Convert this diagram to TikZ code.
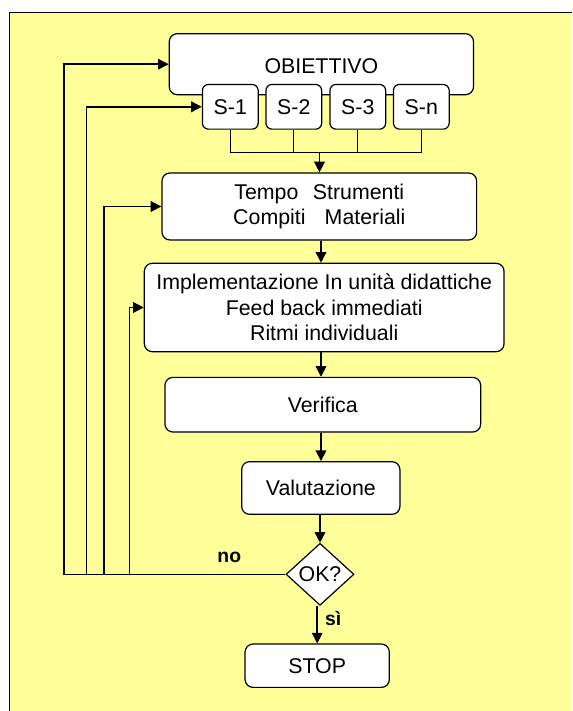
\documentclass[tikz,border=0pt]{standalone}
\usepackage{fontspec}
\setmainfont{Liberation Sans}
\usetikzlibrary{shapes.geometric,arrows.meta,calc}
\definecolor{bgyellow}{HTML}{FFFF99}

\begin{document}
\begin{tikzpicture}[x=0.75pt,y=-0.75pt,
  box/.style={draw,fill=white,rounded corners=6pt,line width=0.9pt,inner sep=0pt,
    align=center,font=\fontsize{16}{19}\selectfont},
  sbox/.style={box,rounded corners=4.5pt,minimum width=41.8pt,minimum height=33.5pt},
  decision/.style={draw,fill=white,diamond,line width=0.9pt,inner sep=0pt,
    minimum width=51pt,minimum height=46.5pt,font=\fontsize{16}{19}\selectfont},
  link/.style={line width=1.1pt},
  thinlink/.style={line width=0.8pt},
  flow/.style={link,-{Triangle[length=8pt,width=8pt]}},
  lbl/.style={font=\fontsize{14.5}{17}\selectfont\bfseries,inner sep=0pt,anchor=base}]

% page and yellow panel
\useasboundingbox (0,0) rectangle (572,711);
\fill[white] (0,0) rectangle (572,711);
\fill[bgyellow] (9.3,12.7) rectangle (572,711);
\draw[line width=1.1pt] (9.3,711) -- (9.3,12.7) -- (572,12.7);

% boxes
\node[box,minimum width=228.2pt,minimum height=45.75pt] (obj) at (321.4,64.2) {};
\node at (321.4,65.7) (objtxt) {\fontsize{16}{19}\selectfont OBIETTIVO};
\node[sbox] (s1) at (230.3,106.8) {S-1};
\node[sbox] (s2) at (293.8,106.8) {S-2};
\node[sbox] (s3) at (357.8,106.8) {S-3};
\node[sbox] (sn) at (421.3,106.8) {S-n};

\node[box,minimum width=236pt,minimum height=50.25pt] (tempo) at (319.3,206.5)
  {Tempo\hspace{10.9pt}Strumenti\\Compiti\hspace{14.4pt}Materiali};
\node[box,minimum width=269.8pt,minimum height=66.3pt] (impl) at (324.2,307.5)
  {Implementazione In unità didattiche\\Feed back immediati\\Ritmi individuali};
\node[box,minimum width=236.8pt,minimum height=41pt] (verif) at (322.8,404.7) {Verifica};
\node[box,minimum width=118.7pt,minimum height=39.5pt] (valut) at (320.8,488) {Valutazione};
\node[decision] (ok) at (320,574.3) {OK?};
\node[box,minimum width=108.2pt,minimum height=32.5pt] (stop) at (317.2,665.7) {STOP};

% sub-goals merge into one arrow
\coordinate (sjoin) at (319.5,152.5);
\draw[thinlink] (s1.south) |- (sjoin) -| (sn.south);
\draw[thinlink] (s2.south) -- (s2.south |- sjoin);
\draw[thinlink] (s3.south) -- (s3.south |- sjoin);
\draw[flow] (sjoin) -- (sjoin |- tempo.north);

% main downward flow
\coordinate (col) at (321,0);
\draw[flow] (tempo.south -| col) -- (impl.north -| col);
\draw[flow] (impl.south -| col) -- (verif.north -| col);
\draw[flow] (verif.south -| col) -- (valut.north -| col);
\draw[flow] (valut.south -| ok.north) -- (ok.north);
\draw[flow] (ok.south -| stop.north) -- (stop.north);

% feedback loops
\coordinate (fb1) at (64.2,574.3);
\coordinate (fb2) at (86.7,574.3);
\coordinate (fb3) at (104,574.3);
\coordinate (fb4) at (129.3,574.3);
\draw[flow] (ok.west) -- (fb1) |- (obj.west);
\draw[flow] (fb2) |- (s1.west);
\draw[flow] (fb3) |- (tempo.west);
\draw[flow] (fb4) |- (impl.west);

% branch labels
\node[lbl] (no) at (229.3,562.7) {no};
\node[lbl] (si) at (333.3,625) {sì};
\end{tikzpicture}
\end{document}
